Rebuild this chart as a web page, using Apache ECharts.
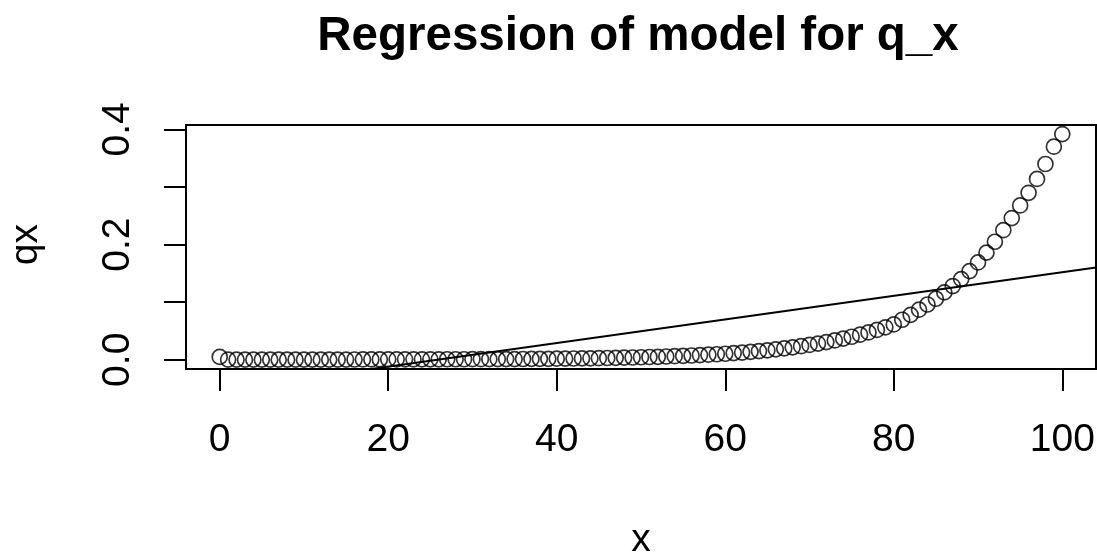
<!DOCTYPE html>
<html>
<head>
<meta charset="utf-8">
<script src="https://cdn.jsdelivr.net/npm/echarts@6/dist/echarts.min.js"></script>
<style>
  html, body { margin: 0; padding: 0; background: #fff; }
  #chart { width: 1097px; height: 553px; }
</style>
</head>
<body>
<div id="chart"></div>
<script>
// ---- data ----
const ages = [0,1,2,3,4,5,6,7,8,9,10,11,12,13,14,15,16,17,18,19,20,21,22,23,24,25,26,27,28,29,30,31,32,33,34,35,36,37,38,39,40,41,42,43,44,45,46,47,48,49,50,51,52,53,54,55,56,57,58,59,60,61,62,63,64,65,66,67,68,69,70,71,72,73,74,75,76,77,78,79,80,81,82,83,84,85,86,87,88,89,90,91,92,93,94,95,96,97,98,99,100];
const qx = [0.0050,0.0004,0.0003,0.0002,0.0002,0.0002,0.0002,0.0002,0.0002,0.0002,
            0.0002,0.0002,0.0002,0.0003,0.0003,0.0004,0.0005,0.0006,0.0007,0.0007,
            0.0008,0.0008,0.0008,0.0008,0.0008,0.0008,0.0008,0.0009,0.0009,0.0009,
            0.0010,0.0010,0.0011,0.0011,0.0012,0.0013,0.0014,0.0015,0.0016,0.0017,
            0.0019,0.0020,0.0022,0.0024,0.0026,0.0028,0.0031,0.0034,0.0037,0.0040,
            0.0044,0.0048,0.0052,0.0057,0.0062,0.0068,0.0074,0.0081,0.0088,0.0096,
            0.0105,0.0115,0.0126,0.0138,0.0151,0.0165,0.0181,0.0198,0.0216,0.0236,
            0.0258,0.0282,0.0308,0.0336,0.0367,0.0400,0.0436,0.0475,0.0518,0.0564,
            0.0614,0.0695,0.0780,0.0870,0.0960,0.1060,0.1170,0.1280,0.1400,0.1540,
            0.1690,0.1860,0.2050,0.2250,0.2460,0.2680,0.2900,0.3140,0.3400,0.3700,
            0.3920];
// fitted regression line (intercept, slope)
const regCoef = [-0.0529, 0.00205];
const xTicks = [0, 20, 40, 60, 80, 100];
const yTicks = [0.0, 0.1, 0.2, 0.3, 0.4];

const titleText = 'Regression of model for q_x';
const xName = 'x';
const yName = 'qx';

// ---- chart ----
const FONT = '"Liberation Sans", Arial, sans-serif';
const xMin = -4, xMax = 104, yMin = -0.016, yMax = 0.4077;
const box = { left: 186, top: 125, width: 910, height: 244 };
const pxX = box.width / (xMax - xMin);
const pxY = box.height / (yMax - yMin);
const axLeft = box.left + (xTicks[0] - xMin) * pxX;
const axWidth = (xTicks[xTicks.length - 1] - xTicks[0]) * pxX;
const axTop = box.top + (yMax - yTicks[yTicks.length - 1]) * pxY;
const axHeight = (yTicks[yTicks.length - 1] - yTicks[0]) * pxY;

const chart = echarts.init(document.getElementById('chart'), null, { renderer: 'canvas' });
const regLine = [xMin, xMax].map(x => [x, regCoef[0] + regCoef[1] * x]);

chart.setOption({
  animation: false,
  backgroundColor: '#fff',
  textStyle: { fontFamily: FONT, color: '#000' },
  title: {
    text: titleText,
    left: axLeft + axWidth / 2 - 8,
    top: 8,
    textAlign: 'center',
    textStyle: { fontFamily: FONT, fontSize: 47.5, fontWeight: 'bold', color: '#000' }
  },
  grid: [
    { left: box.left, top: box.top, width: box.width, height: box.height,
      show: true, borderColor: '#000', borderWidth: 2, backgroundColor: 'transparent',
      containLabel: false, outerBoundsMode: 'none' },
    { left: axLeft, top: axTop, width: axWidth, height: axHeight,
      containLabel: false, outerBoundsMode: 'none' }
  ],
  xAxis: [
    { gridIndex: 0, type: 'value', min: xMin, max: xMax, show: false },
    { gridIndex: 1, type: 'value', min: xTicks[0], max: xTicks[xTicks.length - 1], interval: 20,
      position: 'bottom', offset: (box.top + box.height) - (axTop + axHeight),
      axisLine: { show: true, onZero: false, lineStyle: { color: '#000', width: 2 } },
      axisTick: { show: true, inside: false, length: 22, lineStyle: { color: '#000', width: 2 } },
      axisLabel: { show: true, fontSize: 39, color: '#000', fontFamily: FONT, margin: 52 },
      splitLine: { show: false },
      name: xName, nameLocation: 'middle', nameGap: 152,
      nameTextStyle: { fontSize: 39, color: '#000', fontFamily: FONT } }
  ],
  yAxis: [
    { gridIndex: 0, type: 'value', min: yMin, max: yMax, show: false },
    { gridIndex: 1, type: 'value', min: yTicks[0], max: yTicks[yTicks.length - 1], interval: 0.1,
      position: 'left', offset: axLeft - box.left,
      axisLine: { show: true, onZero: false, lineStyle: { color: '#000', width: 2 } },
      axisTick: { show: true, inside: false, length: 22, lineStyle: { color: '#000', width: 2 } },
      axisLabel: { show: true, fontSize: 39, color: '#000', fontFamily: FONT, rotate: 90, margin: 48,
        formatter: v => (Math.round(v * 10) % 2 === 0 ? v.toFixed(1) : '') },
      splitLine: { show: false },
      name: yName, nameLocation: 'middle', nameGap: 140, nameRotate: 90,
      nameTextStyle: { fontSize: 39, color: '#000', fontFamily: FONT } }
  ],
  series: [
    { type: 'scatter', xAxisIndex: 0, yAxisIndex: 0,
      data: ages.map((a, i) => [a, qx[i]]),
      symbol: 'circle', symbolSize: 15,
      itemStyle: { color: 'rgba(0,0,0,0)', borderColor: '#000', borderWidth: 1.7 },
      z: 3 },
    { type: 'line', xAxisIndex: 0, yAxisIndex: 0,
      data: regLine, symbol: 'none', showSymbol: false, clip: true,
      lineStyle: { color: '#000', width: 2 }, z: 2 }
  ]
});
</script>
</body>
</html>
